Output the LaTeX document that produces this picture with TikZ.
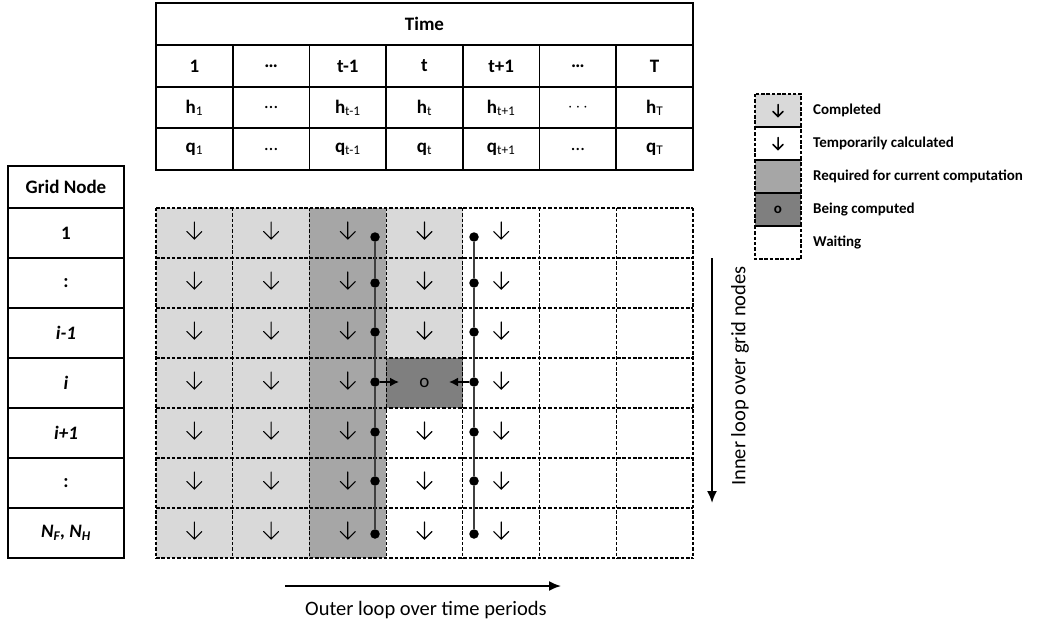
\documentclass[tikz,border=0pt]{standalone}
\usepackage{fontspec}
\setmainfont{Carlito}
\usetikzlibrary{arrows.meta}
\definecolor{donegray}{HTML}{D9D9D9}
\definecolor{needgray}{HTML}{A6A6A6}
\definecolor{busygray}{HTML}{7F7F7F}
\definecolor{linkgray}{HTML}{3F3F3F}
\newcommand\lsub[1]{\textsubscript{\mdseries #1}}
\newcommand\hsym[1]{\textbf{h}\lsub{#1}}
\newcommand\qsym[1]{\textbf{q}\lsub{#1}}
\begin{document}
\begin{tikzpicture}[x=1pt,y=-1pt,
  tabtxt/.style={font=\fontsize{19}{22}\selectfont\bfseries, inner sep=0pt},
  tabline/.style={line width=1.6pt},
  gridfill/.style={minimum width=76.714pt, minimum height=50pt, inner sep=0pt, outer sep=0pt, anchor=north west},
  gridline/.style={line width=1.1pt, dash pattern=on 3.5pt off 1.8pt},
  cellmark/.style={font=\fontsize{19}{22}\selectfont, inner sep=0pt},
  legfill/.style={minimum width=46pt, minimum height=33pt, inner sep=0pt, outer sep=0pt, anchor=north west},
  legtxt/.style={font=\fontsize{15}{18}\selectfont\bfseries, anchor=west, inner sep=0pt},
  looptxt/.style={font=\fontsize{20.5}{24}\selectfont, inner sep=0pt},
  dot/.style={circle, fill=black, minimum size=9.5pt, inner sep=0pt},
  linkline/.style={linkgray, line width=2.2pt},
  looparrow/.style={-{Latex[length=12pt,width=10pt]}, line width=1.8pt},
  pointer/.style={-{Latex[length=9pt,width=9pt]}, line width=1.6pt},
  darr/.pic={\draw[line width=1.1pt, line cap=round] (0,-9) -- (0,8) (-7.5,0.5) -- (0,8) -- (7.5,0.5);},
  sarr/.pic={\draw[line width=1.5pt, line cap=round] (0,-6) -- (0,6) (-5,1) -- (0,6) -- (5,1);},
]
\useasboundingbox (0,0) rectangle (1040,628);

% ---------------- time table ----------------
\draw[tabline] (156,3) rectangle (693,170);
\foreach \yy in {45,87,128} \draw[tabline] (156,\yy) -- (693,\yy);
\foreach \k in {1,...,6} \draw[tabline] ({156+\k*76.714},45) -- ({156+\k*76.714},170);
\node[tabtxt] (time) at (424.5,24) {Time};
\foreach \lab [count=\c] in {1,…,t-1,t,t+1,…,T}
  \node[tabtxt] (tn-\c) at ({156+(\c-0.5)*76.714},66) {\lab};
\foreach \lab [count=\c] in {\hsym{1},{\mdseries …},\hsym{t-1},\hsym{t},\hsym{t+1},{\mdseries$\cdots$},\hsym{T}}
  \node[tabtxt] (th-\c) at ({156+(\c-0.5)*76.714},108) {\lab};
\foreach \lab [count=\c] in {\qsym{1},{\mdseries …},\qsym{t-1},\qsym{t},\qsym{t+1},{\mdseries …},\qsym{T}}
  \node[tabtxt] (tq-\c) at ({156+(\c-0.5)*76.714},149) {\lab};

% ---------------- grid node table ----------------
\draw[tabline] (8,166) rectangle (124,558);
\foreach \k in {0,...,6} \draw[tabline] (8,{208+\k*50}) -- (124,{208+\k*50});
\node[tabtxt] (gnhead) at (66,187) {Grid Node};
\foreach \lab [count=\r] in {1,:,\textit{i-1},\textit{i},\textit{i+1},:,{\textit{N\textsubscript{F}, N\textsubscript{H}}}}
  \node[tabtxt] (gn-\r) at (66,{233+(\r-1)*50}) {\lab};

% ---------------- computation grid: fills ----------------
\foreach \c in {1,...,7} {
  \foreach \r in {1,...,7} {
    \def\cfill{white}
    \ifnum\c<3 \def\cfill{donegray}\fi
    \ifnum\c=3 \def\cfill{needgray}\fi
    \ifnum\c=4
      \ifnum\r<4 \def\cfill{donegray}\fi
      \ifnum\r=4 \def\cfill{busygray}\fi
    \fi
    \node[gridfill, fill=\cfill] (g-\c-\r) at ({156+(\c-1)*76.714},{208+(\r-1)*50}) {};
  }
}
% dashed cell borders
\foreach \c in {1,...,7} \draw[gridline] (g-\c-1.north west) -- (g-\c-7.south west);
\draw[gridline] (g-7-1.north east) -- (g-7-7.south east);
\foreach \r in {1,...,7} \draw[gridline] (g-1-\r.north west) -- (g-7-\r.north east);
\draw[gridline] (g-1-7.south west) -- (g-7-7.south east);

% downward marks in finished / provisional cells
\foreach \c in {1,...,5} {
  \foreach \r in {1,...,7} {
    \ifnum\c=4 \ifnum\r=4 \else
      \pic at ({156+(\c-0.5)*76.714},{208+(\r-0.5)*50-2}) {darr};
    \fi \else
      \pic at ({156+(\c-0.5)*76.714},{208+(\r-0.5)*50-2}) {darr};
    \fi
  }
}
\node[cellmark] (cur) at (g-4-4.center) {o};

% dependency chains
\foreach \r/\yy in {1/237,2/283,3/332,4/382,5/432,6/481,7/534} {
  \node[dot] (dl-\r) at (375,\yy) {};
  \node[dot] (dr-\r) at (474,\yy) {};
}
\foreach \r [evaluate=\r as \n using int(\r+1)] in {1,...,6} {
  \draw[linkline] (dl-\r) -- (dl-\n);
  \draw[linkline] (dr-\r) -- (dr-\n);
}
\coordinate (tipL) at (399,382);
\coordinate (tipR) at (449,382);
\draw[pointer] (dl-4) -- (tipL);
\draw[pointer] (dr-4) -- (tipR);

% ---------------- legend ----------------
\foreach \k/\f in {1/donegray,2/white,3/needgray,4/busygray,5/white}
  \node[legfill, fill=\f] (lg-\k) at (755,{94+(\k-1)*33}) {};
\foreach \k in {1,...,5} \draw[gridline] (lg-\k.north west) rectangle (lg-\k.south east);
\pic at (lg-1.center) {sarr};
\pic at (lg-2.center) {sarr};
\node[legtxt, anchor=center] (lgo) at (lg-4.center) {o};
\foreach \k/\t in {1/Completed,2/Temporarily calculated,3/Required for current computation,4/Being computed,5/Waiting}
  \node[legtxt] (lt-\k) at (813,{110.5+(\k-1)*33}) {\t};

% ---------------- loop directions ----------------
\coordinate (inTop) at (712,258);
\coordinate (inEnd) at (712,503);
\draw[looparrow] (inTop) -- (inEnd);
\node[looptxt, rotate=90] (inLbl) at (740,376) {Inner loop over grid nodes};
\coordinate (outStart) at (285,586);
\coordinate (outEnd) at (561,586);
\draw[looparrow] (outStart) -- (outEnd);
\node[looptxt] (outLbl) at (426,610) {Outer loop over time periods};
\end{tikzpicture}
\end{document}
